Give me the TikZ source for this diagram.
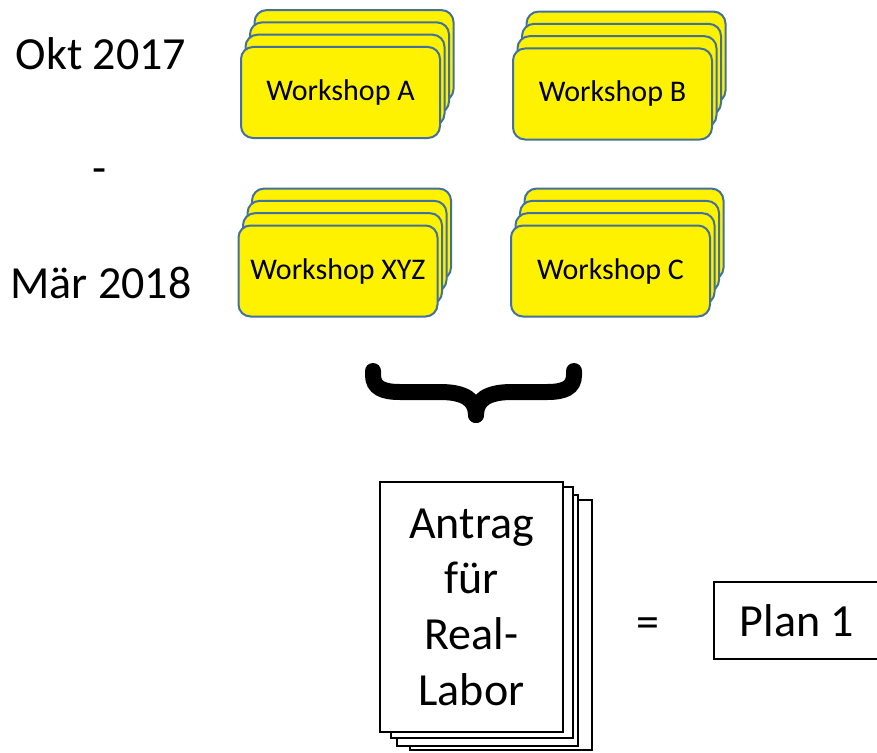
\documentclass[tikz,border=0pt]{standalone}
\usepackage{fontspec}
\setmainfont{Carlito}
\definecolor{wsblue}{HTML}{41719C}
\tikzset{
  card/.style={draw=wsblue,line width=2pt,fill=yellow,rounded corners=12pt,
    minimum width=199pt,minimum height=91pt,inner sep=0pt,
    font=\fontsize{30}{36}\selectfont},
  sheet/.style={draw,line width=2pt,fill=white},
  big/.style={font=\fontsize{46}{55.7}\selectfont},
}
\newcommand{\wsstack}[4]{%
  \foreach \k in {3,2,1}
    \node[card] (#1-\k) at (#2+4.5*\k,#3-12.3*\k) {};
  \node[card] (#1) at (#2,#3) {#4};
}

\begin{document}
\begin{tikzpicture}[x=1pt,y=-1pt]
  \useasboundingbox (0,0) rectangle (877,752);
  % time span
  \node[big,anchor=base] (von) at (101,70) {Okt 2017};
  \node[big,anchor=base] (bis) at (100,183) {-};
  \node[big,anchor=base] (mar) at (101,298) {Mär 2018};
  % workshops
  \wsstack{wsA}{340.5}{92.5}{Workshop A}
  \wsstack{wsB}{612.5}{94}{Workshop B}
  \wsstack{wsXYZ}{338}{271}{Workshop XYZ}
  \wsstack{wsC}{610.5}{271}{Workshop C}
  % brace
  \draw[line width=16pt,line cap=round]
    (373,371) -- (373,375) .. controls (373,388) and (383,392) .. (400,392)
    -- (440,392) .. controls (465,392) and (476,400) .. (476,415);
  \draw[line width=16pt,line cap=round]
    (574,371) -- (574,375) .. controls (574,388) and (564,392) .. (547,392)
    -- (512,392) .. controls (487,392) and (476,400) .. (476,415);
  % application
  \draw[sheet] (410,500) rectangle (592,750);
  \draw[sheet] (397,495) rectangle (578,746);
  \draw[sheet] (391,487) rectangle (573,738);
  \node[sheet,big,align=center,minimum width=183pt,minimum height=250pt]
    (antrag) at (471.5,607) {Antrag\\für\\Real-\\Labor};
  \node[big,anchor=base] (gleich) at (648,637) {=};
  \node[draw,line width=2pt,big,minimum width=166pt,minimum height=77pt,anchor=west]
    (plan) at (713,620.5) {Plan 1};
\end{tikzpicture}
\end{document}
